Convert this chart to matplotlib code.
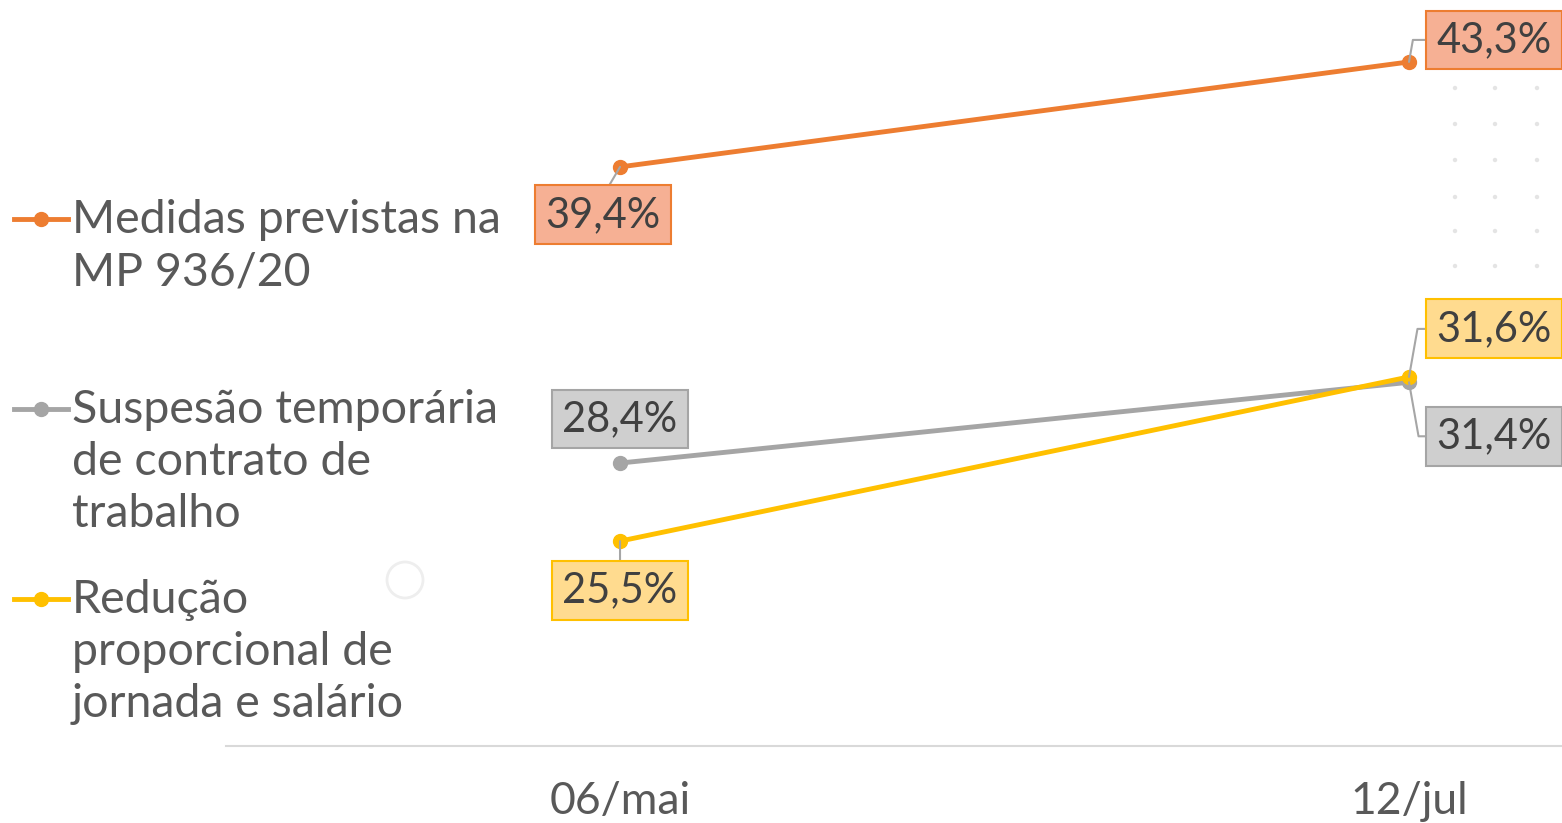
import matplotlib.pyplot as plt
from matplotlib.lines import Line2D
from matplotlib.patches import Circle, Ellipse

plt.rcParams['font.family'] = ['Lato', 'DejaVu Sans']

# data
datas = ['06/mai', '12/jul']
series_names = ['Medidas previstas na\nMP 936/20',
                'Suspesão temporária\nde contrato de\ntrabalho',
                'Redução\nproporcional de\njornada e salário']
medidas = [39.4, 43.3]
suspensao = [28.4, 31.4]
reducao = [25.5, 31.6]
valores = [medidas, suspensao, reducao]

cores = ['#ED7D31', '#A5A5A5', '#FFC000']
fundos = ['#F6B094', '#CFCFCF', '#FFDB8F']

W, H = 1562, 823
fig = plt.figure(figsize=(W / 100, H / 100), dpi=100)
ax = fig.add_axes([226 / W, 77 / H, 1336 / W, 746 / H])
ax.set_xlim(-0.4994, 1.1939)
ax.set_ylim(17.89, 45.6)
ax.patch.set_alpha(0)

# faint background decoration
for cx in [1455, 1495, 1537]:
    for cy in [88, 124, 160, 197, 231, 266]:
        fig.add_artist(Ellipse((cx / W, 1 - cy / H), 3 / W, 3 / H, color='#E4E4E4',
                               transform=fig.transFigure, zorder=0))
fig.add_artist(Ellipse((405 / W, 1 - 580 / H), 36 / W, 36 / H, fill=False, ec='#EEEEEE',
                       lw=2, transform=fig.transFigure, zorder=0))

x = [0, 1]
for v, c in zip(valores, cores):
    ax.plot(x, v, color=c, lw=3.5, marker='o', ms=10, zorder=3)

# data labels (offsets in pixels from the point)
offsets = [[(-17, -48), (85, 22)],
           [(0, 44), (85, -54)],
           [(0, -49), (85, 48)]]
for v, c, f, offs in zip(valores, cores, fundos, offsets):
    for i in range(2):
        dx, dy = offs[i]
        txt = f'{v[i]:.1f}%'.replace('.', ',')
        props = None
        if i == 1:
            ang = 80 if dy > 0 else -80
            props = dict(arrowstyle='-', color='#A6A6A6', lw=1.5, shrinkA=0, shrinkB=0,
                         connectionstyle=f'angle,angleA=180,angleB={ang},rad=0',
                         relpos=(0, 0.5))
        elif dy < 0 and c != '#A5A5A5':
            props = dict(arrowstyle='-', color='#A6A6A6', lw=1.5, shrinkA=0, shrinkB=0,
                         relpos=(0.5, 1))
        ax.annotate(txt, (x[i], v[i]), xytext=(dx, dy), textcoords='offset pixels',
                    ha='center', va='center', fontsize=30, color='#404040',
                    bbox=dict(boxstyle='square,pad=0.25', fc=f, ec=c, lw=1.5),
                    arrowprops=props, zorder=4, annotation_clip=False)

ax.set_xticks(x)
ax.set_xticklabels(datas, fontsize=32, color='#595959')
ax.tick_params(axis='x', length=0, pad=25)
ax.set_yticks([])
for s in ['top', 'left', 'right']:
    ax.spines[s].set_visible(False)
ax.spines['bottom'].set_color('#D9D9D9')
ax.spines['bottom'].set_linewidth(1.5)

# legend on the left
for k, (nome, c) in enumerate(zip(series_names, cores)):
    yl = 1 - (219 + 190 * k) / H
    fig.add_artist(Line2D([14 / W, 68 / W], [yl, yl], color=c, lw=3.5,
                          transform=fig.transFigure))
    fig.add_artist(Line2D([41 / W], [yl], color=c, marker='o', ms=10, lw=0,
                          transform=fig.transFigure))
    fig.text(72 / W, 1 - (199 + 190 * k) / H, nome, fontsize=33.5, color='#595959',
             va='top', ha='left', linespacing=1.30)

fig.savefig('out.png', dpi=100)
